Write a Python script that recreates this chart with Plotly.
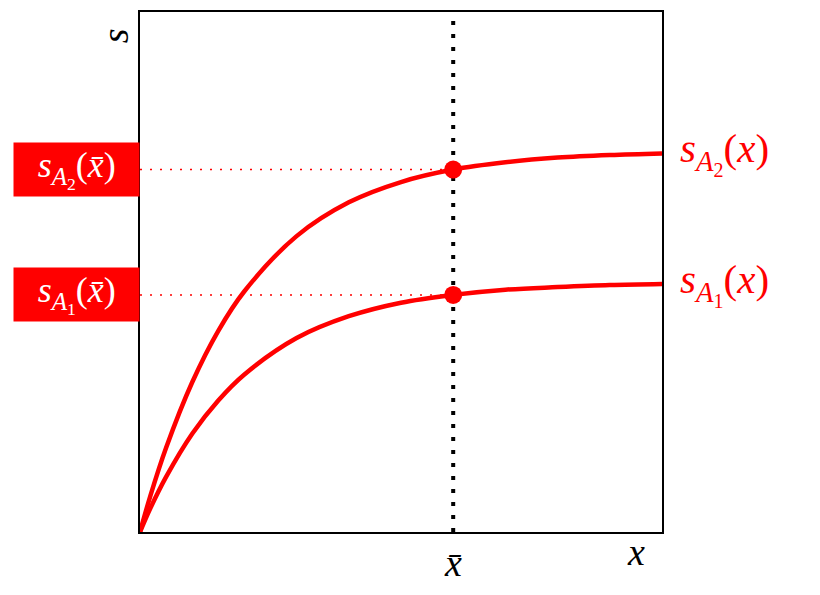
import plotly.graph_objects as go

# values (axes run 0..1 in both directions)
x_vals = [0, 0.02, 0.05, 0.1, 0.15, 0.2, 0.3, 0.4, 0.5, 0.6, 0.7, 0.8, 0.9, 1.0]
s_a2 = [0, 0.070, 0.162, 0.288, 0.387, 0.463, 0.569, 0.634, 0.673, 0.697, 0.711, 0.720, 0.725, 0.728]
s_a1 = [0, 0.046, 0.106, 0.189, 0.253, 0.303, 0.373, 0.415, 0.441, 0.456, 0.466, 0.471, 0.475, 0.477]

x_bar = 0.6
s_a2_bar = 0.697
s_a1_bar = 0.456

RED = "#ff0000"
SERIF = "Liberation Serif, DejaVu Serif, serif"
PAD = "\u2009" * 3

lbl_a2_bar = PAD + "<i>s</i><sub><i>A</i><sub>2</sub></sub>(<i>x̄</i>)" + PAD
lbl_a1_bar = PAD + "<i>s</i><sub><i>A</i><sub>1</sub></sub>(<i>x̄</i>)" + PAD
lbl_a2 = "<i>s</i><sub><i>A</i><sub>2</sub></sub>(<i>x</i>)"
lbl_a1 = "<i>s</i><sub><i>A</i><sub>1</sub></sub>(<i>x</i>)"

fig = go.Figure()

# dotted guides to the left axis
for yv in [s_a2_bar, s_a1_bar]:
    fig.add_trace(go.Scatter(x=[0, x_bar], y=[yv, yv], mode="lines",
                             line=dict(color=RED, width=1.5, dash="2px,8px"),
                             hoverinfo="skip", showlegend=False))

# vertical dotted line at x bar
fig.add_trace(go.Scatter(x=[x_bar, x_bar], y=[0, 1], mode="lines",
                         line=dict(color="black", width=4, dash="4px,9px"),
                         hoverinfo="skip", showlegend=False))

# the two curves
for ys in [s_a2, s_a1]:
    fig.add_trace(go.Scatter(x=x_vals, y=ys, mode="lines",
                             line=dict(color=RED, width=4.5, shape="spline", smoothing=1.0),
                             showlegend=False))

fig.add_trace(go.Scatter(x=[x_bar, x_bar], y=[s_a2_bar, s_a1_bar], mode="markers",
                         marker=dict(color=RED, size=18), showlegend=False))

annots = []
# boxed labels on the left
for yv, txt in [(s_a2_bar, lbl_a2_bar), (s_a1_bar, lbl_a1_bar)]:
    annots.append(dict(x=0, y=yv, xref="paper", yref="y", text=txt,
                       showarrow=False, xanchor="right", yanchor="middle",
                       font=dict(family=SERIF, size=36, color="white"),
                       bgcolor=RED, borderpad=2))
# curve labels on the right
for yv, txt in [(s_a2[-1], lbl_a2), (s_a1[-1], lbl_a1)]:
    annots.append(dict(x=1.03, y=yv, xref="paper", yref="y", text=txt,
                       showarrow=False, xanchor="left", yanchor="middle",
                       font=dict(family=SERIF, size=41, color=RED)))
# axis labels
annots.append(dict(x=x_bar, y=-0.015, xref="x", yref="paper", text="<i>x̄</i>",
                   showarrow=False, xanchor="center", yanchor="top",
                   font=dict(family=SERIF, size=38, color="black")))
annots.append(dict(x=0.95, y=0.005, xref="paper", yref="paper", text="<i>x</i>",
                   showarrow=False, xanchor="center", yanchor="top",
                   font=dict(family=SERIF, size=38, color="black")))
annots.append(dict(x=-0.048, y=0.955, xref="paper", yref="paper", text="<i>s</i>",
                   showarrow=False, xanchor="center", yanchor="middle", textangle=-90,
                   font=dict(family=SERIF, size=38, color="black")))

# page body adds an 8px offset, so the figure is shrunk to keep the plot box in place
fig.update_layout(
    width=812, height=587,
    margin=dict(l=132, r=158, t=2, b=63),
    plot_bgcolor="white", paper_bgcolor="white",
    annotations=annots,
    xaxis=dict(range=[0, 1], showgrid=False, zeroline=False, showticklabels=False,
               ticks="", showline=True, mirror=True, linecolor="black", linewidth=1.5),
    yaxis=dict(range=[0, 1], showgrid=False, zeroline=False, showticklabels=False,
               ticks="", showline=True, mirror=True, linecolor="black", linewidth=1.5),
)

fig.write_html("out.html")
